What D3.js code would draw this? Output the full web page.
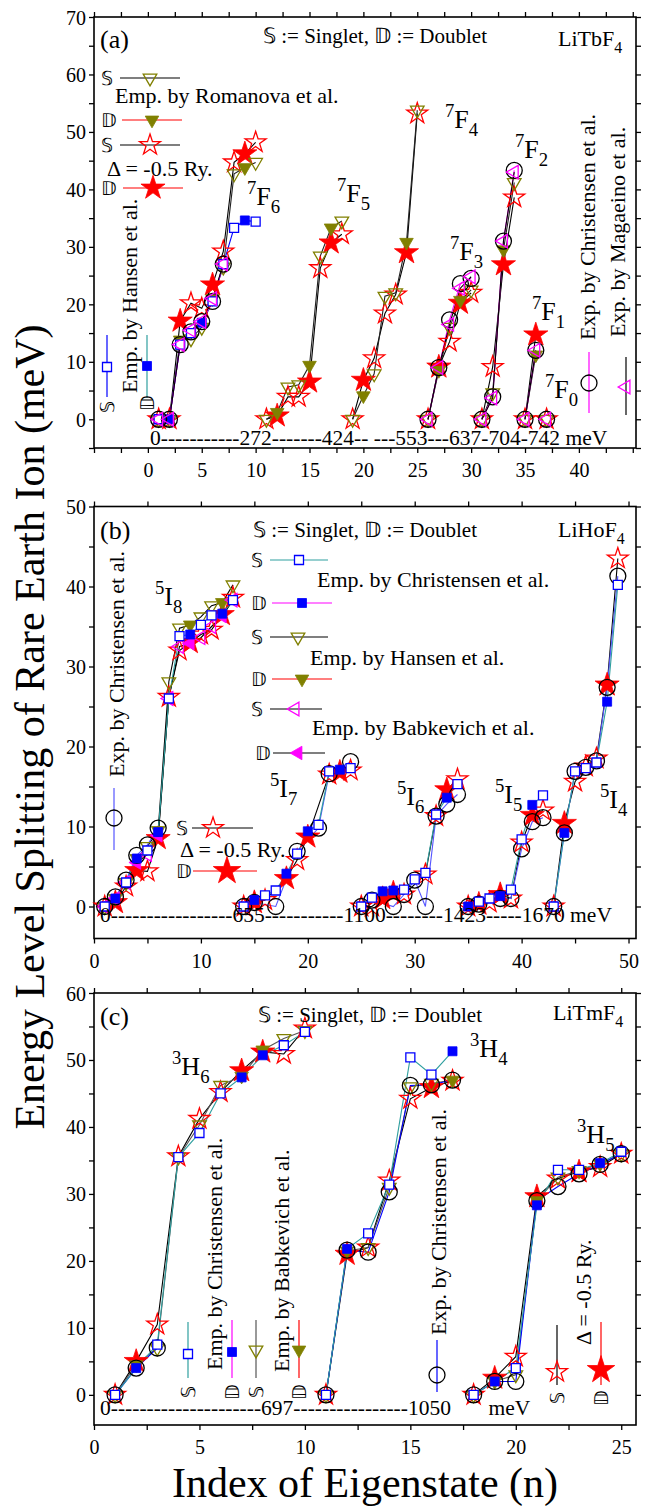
<!DOCTYPE html>
<html><head><meta charset="utf-8">
<script src="https://cdn.jsdelivr.net/npm/d3@7"></script>
<style>body{margin:0;background:#fff} text{font-family:"Liberation Serif","Times New Roman",serif;fill:#000;white-space:pre}</style>
</head><body><svg id="c" width="648" height="1507"></svg>
<script>
// ---------------- DATA ----------------
// Panel (a) LiTbF4 : multiplet start indices
const tbGroups = [1, 11, 19, 26, 31, 35, 37];
const tbExpChr = [[1,0],[2,0],[3,13],[4,15.2],[5,17],[6,20.5],[7,27],[26,0],[27,9],[28,17.3],[29,23.6],[30,24.5],[31,0],[32,3.9],[33,31],[34,43.3],[35,0],[36,12],[37,0]];
const tbExpMag = [[1,0],[2,0],[3,13],[4,15.5],[5,17],[6,21],[7,27],[26,0],[27,9],[28,16.5],[29,22.8],[30,24.8],[31,0],[32,3.7],[33,31],[34,43],[35,0],[36,12],[37,0]];
const tbHanS = [[1,0],[3,13],[4,15],[6,20.5],[7,27],[8,33.3],[10,34.4]];
const tbHanD = [[2,0],[5,16.8],[9,34.6]];
const tbRomS = [[1,0],[2,0],[4,14],[5,16],[7,26.5],[8,42.7],[10,44.7],[11,0],[13,5.6],[14,6],[16,28.4],[18,34.5],[19,0],[21,7.9],[22,21.4],[23,22],[25,53.8],[26,0],[28,16],[30,22.5],[31,0],[32,4.6],[34,41.2],[35,0],[37,0]];
const tbRomD = [[3,13.8],[6,21],[9,43.8],[12,1.2],[15,9.4],[17,33.3],[20,4.1],[24,30.8],[27,8.5],[29,20.7],[33,29.5],[36,11.2]];
const tbStarS = [[1,0],[2,0],[4,20.2],[5,19.3],[7,29.2],[8,44.7],[10,48.2],[11,0],[13,3.9],[14,3.9],[16,26.3],[18,32.2],[19,0],[21,10.6],[22,18.4],[23,21.7],[25,53.2],[26,0],[28,13.5],[30,22],[31,0],[32,9.1],[34,38.6],[35,0],[37,0]];
const tbStarD = [[3,17.1],[6,23.4],[9,46.2],[12,0.6],[15,6.5],[17,30.7],[20,6.8],[24,29],[27,9.1],[29,20.2],[33,26.9],[36,14.7]];

// Panel (b) LiHoF4
const hoGroups = [1, 14, 25, 35, 43];
const hoExp = [[1,0],[2,1.2],[3,3.3],[4,6.4],[5,7.7],[6,9.8],[14,0],[15,0.5],[17,0],[19,6.9],[21,9.8],[22,16.6],[24,18.1],[25,0],[26,0.8],[28,0],[29,1.5],[30,3.3],[31,0],[32,11.3],[33,12.8],[34,14],[35,0],[36,0.3],[38,1],[39,1],[40,7.2],[41,10.6],[42,11.1],[43,0],[44,9.2],[45,16.9],[46,17.4],[47,18.2],[48,27.4],[49,41.3]];
const hoChrS = [[1,0],[3,3],[5,7],[7,26],[8,33.8],[10,35.2],[11,36.4],[13,38.3],[14,0],[16,1.4],[17,2],[19,6.6],[21,10.2],[22,16.9],[24,17.3],[25,0],[26,1.1],[29,2.1],[30,3.4],[31,4.2],[32,11.5],[34,15.3],[36,0.6],[37,1],[39,2.1],[40,8.4],[42,13.9],[43,0],[45,16.9],[46,17.3],[47,18],[49,40.2]];
const hoChrD = [[2,1],[4,6],[6,9.3],[9,34],[12,36.6],[15,0.8],[18,4.1],[20,9.4],[23,17.1],[27,1.9],[28,2],[33,13.6],[35,0],[38,1.3],[41,12.7],[44,9.2],[48,25.6]];
const hoHanS = [[1,0],[3,3],[5,7.5],[7,28.1],[8,34.8],[10,36.2],[11,37.6],[13,40.2]];
const hoHanD = [[2,1],[4,6],[6,9.5],[9,35.2],[12,38]];
const hoBabS = [[1,0],[3,3],[5,6.5],[7,26],[8,32.5],[10,33.6],[11,35],[13,38.3]];
const hoBabD = [[2,1],[4,5.5],[6,8.9],[9,32.9],[12,36.3]];
const hoStarS = [[1,0],[3,2.5],[5,4.4],[7,26.2],[8,32],[10,34],[11,34.6],[13,38.6],[14,0],[16,0.8],[19,5.8],[22,16.5],[24,17],[25,0],[26,0],[29,1.5],[31,4],[32,11.3],[34,15.9],[35,0],[37,0.5],[39,1],[40,8],[42,12],[43,0],[45,15.6],[46,17.5],[47,18.5],[49,43.5]];
const hoStarD = [[2,0.5],[4,4.5],[6,8.5],[9,33],[12,36.5],[15,0.5],[18,3.5],[20,8.7],[23,16.8],[27,1],[28,1.7],[33,14.6],[36,0.3],[38,1.5],[41,11.4],[44,10.4],[48,27.7]];

// Panel (c) LiTmF4
const tmGroups = [1, 11, 18];
const tmExp = [[1,0],[2,4],[3,7],[11,0],[12,21.6],[13,21.3],[14,30.3],[15,46.2],[16,46.3],[17,47],[18,0],[19,2],[20,2],[21,29],[22,31.1],[23,33],[24,34.4],[25,36]];
const tmChrS = [[1,0],[3,7.5],[4,35.5],[5,39.1],[6,45],[9,52.2],[10,54.2],[11,0],[13,24.1],[14,31.4],[15,50.4],[16,47.8],[18,0],[20,4],[22,33.6],[23,33.6],[25,36.3]];
const tmChrD = [[2,4],[7,47.4],[8,50.7],[12,21.8],[17,51.3],[19,2],[21,28.3],[24,34.6]];
const tmBabS = [[1,0],[3,7],[4,35.5],[5,40.3],[6,46.2],[9,53.2],[10,54.4],[11,0],[13,22],[14,31],[15,46],[16,46.5],[18,0],[20,3],[22,32.5],[23,33.5],[25,36]];
const tmBabD = [[2,4.5],[7,47.6],[8,51.5],[12,21.5],[17,47],[19,2],[21,29],[24,34.5]];
const tmStarS = [[1,0],[3,10.5],[4,35.6],[5,41.2],[6,45.2],[9,50.9],[10,54.7],[11,0],[13,22],[14,32],[15,44.2],[17,46.9],[18,0],[20,5.7],[22,32.3],[24,34],[25,36]];
const tmStarD = [[2,5],[7,48.4],[8,51.2],[12,21],[16,45.9],[19,2.5],[21,29.6],[23,33.3]];

// tick label values
const tbXLabels = [0,5,10,15,20,25,30,35,40];
const tbYLabels = [0,10,20,30,40,50,60,70];
const hoXLabels = [0,10,20,30,40,50];
const hoYLabels = [0,10,20,30,40,50];
const tmXLabels = [0,5,10,15,20,25];
const tmYLabels = [0,10,20,30,40,50,60];

// ---------------- STYLE ----------------
const RED='#ff0000', OLIVE='#808000', BLUE='#0000ff', MAG='#ff00ff', TEAL='#2f9f9f', GRAY='#555555', EXPBLUE='#5555ff';
const svg = d3.select('#c');
const L = 94, R = 636;
const LEG = 22;

function markerPath(type, open, s=1){
  let t, size, rot=0;
  if(type==='circle'){t=d3.symbolCircle; size=Math.PI*64;}
  else if(type==='square'){t=d3.symbolSquare; size=81;}
  else if(type==='triD'){t=d3.symbolTriangle; size=80; rot=180;}
  else if(type==='triL'){t=d3.symbolTriangle; size=80; rot=-90;}
  else {t=d3.symbolStar; size=open?136:180;}
  return {d:d3.symbol(t, size*s)(), rot};
}
function marker(g, type, cx, cy, color, open, s=1){
  const m = markerPath(type, open, s);
  g.append('path').attr('d', m.d)
   .attr('transform', `translate(${cx},${cy}) rotate(${m.rot})`)
   .attr('fill', open ? (type==='square' ? '#fff' : 'none') : color)
   .attr('stroke', color).attr('stroke-width', open ? 1.3 : 0.8);
}
function rich(g, x, y, parts, size, opts={}){
  const t = g.append('text').attr('x', x).attr('y', y).attr('font-size', size)
    .attr('text-anchor', opts.anchor||'start');
  if(opts.rotate!=null) t.attr('transform', `rotate(${opts.rotate},${x},${y})`);
  let shift = 0;
  parts.forEach(p=>{
    const target = p.sup ? -0.42*size : p.sub ? 0.3*size : 0;
    t.append('tspan').attr('dy', target-shift).attr('font-size', (p.sup||p.sub)? size*0.72 : size).text(p.t);
    shift = target;
  });
  return t;
}
function txt(g, x, y, s, size, opts={}){ return rich(g, x, y, [{t:s}], size, opts); }

function splitGroups(pts, starts){
  const gi = n => d3.bisectRight(starts, n);
  const out = [];
  pts.forEach((p,i)=>{ if(i>0 && gi(p[0])!==gi(pts[i-1][0])) out.push(null); out.push(p); });
  return out;
}

function panel(cfg){
  const g = svg.append('g');
  const x = d3.scaleLinear().domain(cfg.xd).range([L, R]);
  const y = d3.scaleLinear().domain(cfg.yd).range([cfg.bottom, cfg.top]);
  const xt = d3.range(cfg.xd[0], cfg.xd[1]+1e-6, cfg.xStep);
  const yt = d3.range(Math.ceil(cfg.yd[0]/5)*5, cfg.yd[1]+1e-6, 5);
  const fx = d => cfg.xLabels.includes(d) ? d : '';
  const fy = d => cfg.yLabels.includes(d) ? d : '';
  const styleAxis = a => { a.select('.domain').remove(); a.selectAll('line').attr('stroke','#000').attr('stroke-width',1.3);
    a.selectAll('text').attr('font-family','"Liberation Serif","Times New Roman",serif').attr('font-size',20).attr('fill','#000'); };
  g.append('g').attr('transform',`translate(0,${cfg.bottom})`).call(d3.axisBottom(x).tickValues(xt).tickFormat(fx).tickSize(5).tickPadding(10)).call(styleAxis);
  g.append('g').attr('transform',`translate(0,${cfg.top})`).call(d3.axisTop(x).tickValues(xt).tickFormat('').tickSize(5)).call(styleAxis);
  const ya = g.append('g').attr('transform',`translate(${L},0)`).call(d3.axisLeft(y).tickValues(yt).tickFormat(fy).tickSize(5).tickPadding(3)).call(styleAxis);
  ya.selectAll('text').attr('dy','0.35em');
  g.append('g').attr('transform',`translate(${R},0)`).call(d3.axisRight(y).tickValues(yt).tickFormat('').tickSize(5)).call(styleAxis);
  g.append('rect').attr('x',L).attr('y',cfg.top).attr('width',R-L).attr('height',cfg.bottom-cfg.top)
    .attr('fill','none').attr('stroke','#000').attr('stroke-width',1.6);
  const line = d3.line().defined(d=>d!==null).x(d=>x(d[0])).y(d=>y(d[1]));
  const lg = g.append('g');
  // each data set (singlets + doublets together) is joined by one line
  cfg.lines.forEach(s=>{
    const pts = [].concat(...s.d).sort((a,b)=>a[0]-b[0]);
    lg.append('path').attr('d', line(splitGroups(pts, cfg.groups))).attr('fill','none')
      .attr('stroke', s.color).attr('stroke-width', 1.1);
  });
  const mg = g.append('g');
  cfg.series.forEach(s=>{
    s.d.forEach(p=> marker(mg, s.m, x(p[0]), y(p[1]), s.color, s.open, s.scale||1));
  });
  return g;
}

// ---------------- PANEL (a) ----------------
const ga = panel({
  xd:[-5,45.3], yd:[-5,70], top:17, bottom:448, xStep:2.5, xLabels:tbXLabels, yLabels:tbYLabels, groups:tbGroups,
  lines:[
    {d:[tbStarS,tbStarD], color:'#000'},
    {d:[tbRomS,tbRomD], color:'#222'},
    {d:[tbHanS,tbHanD], color:BLUE},
    {d:[tbExpChr], color:MAG},
    {d:[tbExpMag], color:'#000'}
  ],
  series:[
    {d:tbStarD, m:'star', color:RED, open:false},
    {d:tbStarS, m:'star', color:RED, open:true},
    {d:tbRomS, m:'triD', color:OLIVE, open:true},
    {d:tbRomD, m:'triD', color:OLIVE, open:false},
    {d:tbHanS, m:'square', color:BLUE, open:true},
    {d:tbHanD, m:'square', color:BLUE, open:false},
    {d:tbExpChr, m:'circle', color:'#000', open:true},
    {d:tbExpMag, m:'triL', color:MAG, open:true}
  ]
});
txt(ga, 100, 48, '(a)', 26);
txt(ga, 263, 43, '𝕊 := Singlet, 𝔻 := Doublet', 21);
rich(ga, 558, 46, [{t:'LiTbF'},{t:'4',sub:true}], 22);
const tbLab = [['6',247,205],['5',337,202],['4',445,128],['3',450,260],['2',515,158],['1',532,320],['0',545,398]];
tbLab.forEach(l=> rich(ga, l[1], l[2], [{t:'7',sup:true},{t:'F'},{t:l[0],sub:true}], 26));
txt(ga, 150, 445, '0-----------272-------424-- ---553---637-704-742 meV', 21.5);
// horizontal legend
function hleg(g, sym, x, ly, x1, x2, mx, type, color, open, line, s=1){
  txt(g, x, ly+7, sym, 19);
  g.append('line').attr('x1',x1).attr('x2',x2).attr('y1',ly).attr('y2',ly).attr('stroke',line).attr('stroke-width',1.2);
  marker(g, type, mx, ly, color, open, s);
}
hleg(ga,'𝕊',101,78,120,180,150,'triD',OLIVE,true,'#000');
txt(ga,115,103,'Emp. by Romanova et al.',LEG);
hleg(ga,'𝔻',101,120,122,182,152,'triD',OLIVE,false,RED);
hleg(ga,'𝕊',101,145,120,180,150,'star',RED,true,'#000');
txt(ga,107,176,'Δ = -0.5 Ry.',LEG);
hleg(ga,'𝔻',101,188,123,183,153,'star',RED,false,RED);
// vertical legend
function vleg(g, sym, lx, y1, y2, my, type, color, open, line, symY, s=1){
  g.append('line').attr('x1',lx).attr('x2',lx).attr('y1',y1).attr('y2',y2).attr('stroke',line).attr('stroke-width',1.2);
  marker(g, type, lx, my, color, open, s);
  if(sym) txt(g, lx+7, symY, sym, 19, {rotate:-90, anchor:'middle'});
}
txt(ga, 137, 393, 'Emp. by Hansen et al.', LEG, {rotate:-90});
vleg(ga,'𝕊',107,335,397,367,'square',BLUE,true,BLUE,407);
vleg(ga,'𝔻',147,335,398,366,'square',BLUE,false,TEAL,403);
txt(ga, 595, 340, 'Exp. by Christensen et al.', LEG, {rotate:-90});
txt(ga, 625, 337, 'Exp. by Magaeino et al.', LEG, {rotate:-90});
vleg(ga,null,589,352,413,383,'circle','#000',true,MAG,0);
vleg(ga,null,626,357,415,387,'triL',MAG,true,'#000',0);

// ---------------- PANEL (b) ----------------
const gb = panel({
  xd:[0,50.7], yd:[-4,50], top:506.5, bottom:938.5, xStep:5, xLabels:hoXLabels, yLabels:hoYLabels, groups:hoGroups,
  lines:[
    {d:[hoStarS,hoStarD], color:'#000'},
    {d:[hoHanS,hoHanD], color:'#000'},
    {d:[hoBabS,hoBabD], color:'#000'},
    {d:[hoExp], color:EXPBLUE},
    {d:[hoChrS,hoChrD], color:TEAL}
  ],
  series:[
    {d:hoStarD, m:'star', color:RED, open:false},
    {d:hoStarS, m:'star', color:RED, open:true},
    {d:hoHanS, m:'triD', color:OLIVE, open:true},
    {d:hoHanD, m:'triD', color:OLIVE, open:false},
    {d:hoBabS, m:'triL', color:MAG, open:true},
    {d:hoBabD, m:'triL', color:MAG, open:false},
    {d:hoExp, m:'circle', color:'#000', open:true},
    {d:hoChrS, m:'square', color:BLUE, open:true},
    {d:hoChrD, m:'square', color:BLUE, open:false}
  ]
});
txt(gb, 100, 539, '(b)', 26);
txt(gb, 253, 537, '𝕊 := Singlet, 𝔻 := Doublet', 21);
rich(gb, 558, 537, [{t:'LiHoF'},{t:'4',sub:true}], 22);
const hoLab = [['8',155,605],['7',270,797],['6',397,805],['5',495,803],['4',600,808]];
hoLab.forEach(l=> rich(gb, l[1], l[2], [{t:'5',sup:true},{t:'I'},{t:l[0],sub:true}], 26));
txt(gb, 100, 922, '0-----------------655-----------1100--------1423-----1670 meV', 21.5);
hleg(gb,'𝕊',251,560,270,328,299,'square',BLUE,true,TEAL);
txt(gb,317,587,'Emp. by Christensen et al.',LEG);
hleg(gb,'𝔻',251,603,272,332,302,'square',BLUE,false,MAG);
hleg(gb,'𝕊',251,637,270,328,298,'triD',OLIVE,true,'#000');
txt(gb,310,665,'Emp. by Hansen et al.',LEG);
hleg(gb,'𝔻',251,679,272,332,302,'triD',OLIVE,false,RED);
hleg(gb,'𝕊',251,709,270,322,295,'triL',MAG,true,'#000');
txt(gb,312,735,'Emp. by Babkevich et al.',LEG);
hleg(gb,'𝔻',255,753,273,325,298,'triL',MAG,false,'#000');
hleg(gb,'𝕊',176,828,192,253,213,'star',RED,true,'#000');
txt(gb,180,857,'Δ = -0.5 Ry.',LEG);
hleg(gb,'𝔻',176,871,193,257,227,'star',RED,false,RED,1.3);
txt(gb, 124, 777, 'Exp. by Christensen et al.', LEG, {rotate:-90});
vleg(gb,null,114,788,850,818,'circle','#000',true,EXPBLUE,0);

// ---------------- PANEL (c) ----------------
const gc = panel({
  xd:[0,25.7], yd:[-4.5,60], top:993, bottom:1425, xStep:2.5, xLabels:tmXLabels, yLabels:tmYLabels, groups:tmGroups,
  lines:[
    {d:[tmStarS,tmStarD], color:'#000'},
    {d:[tmBabS,tmBabD], color:GRAY},
    {d:[tmExp], color:BLUE},
    {d:[tmChrS,tmChrD], color:TEAL}
  ],
  series:[
    {d:tmStarD, m:'star', color:RED, open:false},
    {d:tmStarS, m:'star', color:RED, open:true},
    {d:tmBabS, m:'triD', color:OLIVE, open:true},
    {d:tmBabD, m:'triD', color:OLIVE, open:false},
    {d:tmExp, m:'circle', color:'#000', open:true},
    {d:tmChrS, m:'square', color:BLUE, open:true},
    {d:tmChrD, m:'square', color:BLUE, open:false}
  ]
});
txt(gc, 100, 1025, '(c)', 26);
txt(gc, 258, 1022, '𝕊 := Singlet, 𝔻 := Doublet', 21);
rich(gc, 553, 1020, [{t:'LiTmF'},{t:'4',sub:true}], 22);
const tmLab = [['6',172,1075],['4',470,1057],['5',577,1143]];
tmLab.forEach(l=> rich(gc, l[1], l[2], [{t:'3',sup:true},{t:'H'},{t:l[0],sub:true}], 26));
txt(gc, 100, 1415, '0---------------------697----------------1050       meV', 21.5);
txt(gc, 222, 1370, 'Emp. by Christensen et al.', LEG, {rotate:-90});
txt(gc, 289, 1372, 'Emp. by Babkevich et al.', LEG, {rotate:-90});
vleg(gc,'𝕊',188,1322,1378,1354,'square',BLUE,true,TEAL,1392);
vleg(gc,'𝔻',232,1320,1378,1352,'square',BLUE,false,MAG,1392);
vleg(gc,'𝕊',256,1320,1378,1350,'triD',OLIVE,true,GRAY,1392);
vleg(gc,'𝔻',299,1320,1378,1350,'triD',OLIVE,false,RED,1392);
txt(gc, 446, 1335, 'Exp. by Christensen et al.', LEG, {rotate:-90});
vleg(gc,null,437,1340,1392,1375,'circle','#000',true,BLUE,0);
txt(gc, 591, 1345, 'Δ = -0.5 Ry.', LEG, {rotate:-90});
vleg(gc,'𝕊',557,1325,1385,1372,'star',RED,true,'#000',1398);
vleg(gc,'𝔻',601,1322,1385,1370,'star',RED,false,RED,1398,1.3);

// ---------------- AXIS TITLES ----------------
txt(svg, 44, 727, 'Energy Level Splitting of Rare Earth Ion (meV)', 42, {rotate:-90, anchor:'middle'});
txt(svg, 365, 1497, 'Index of Eigenstate (n)', 42, {anchor:'middle'});
</script></body></html>
